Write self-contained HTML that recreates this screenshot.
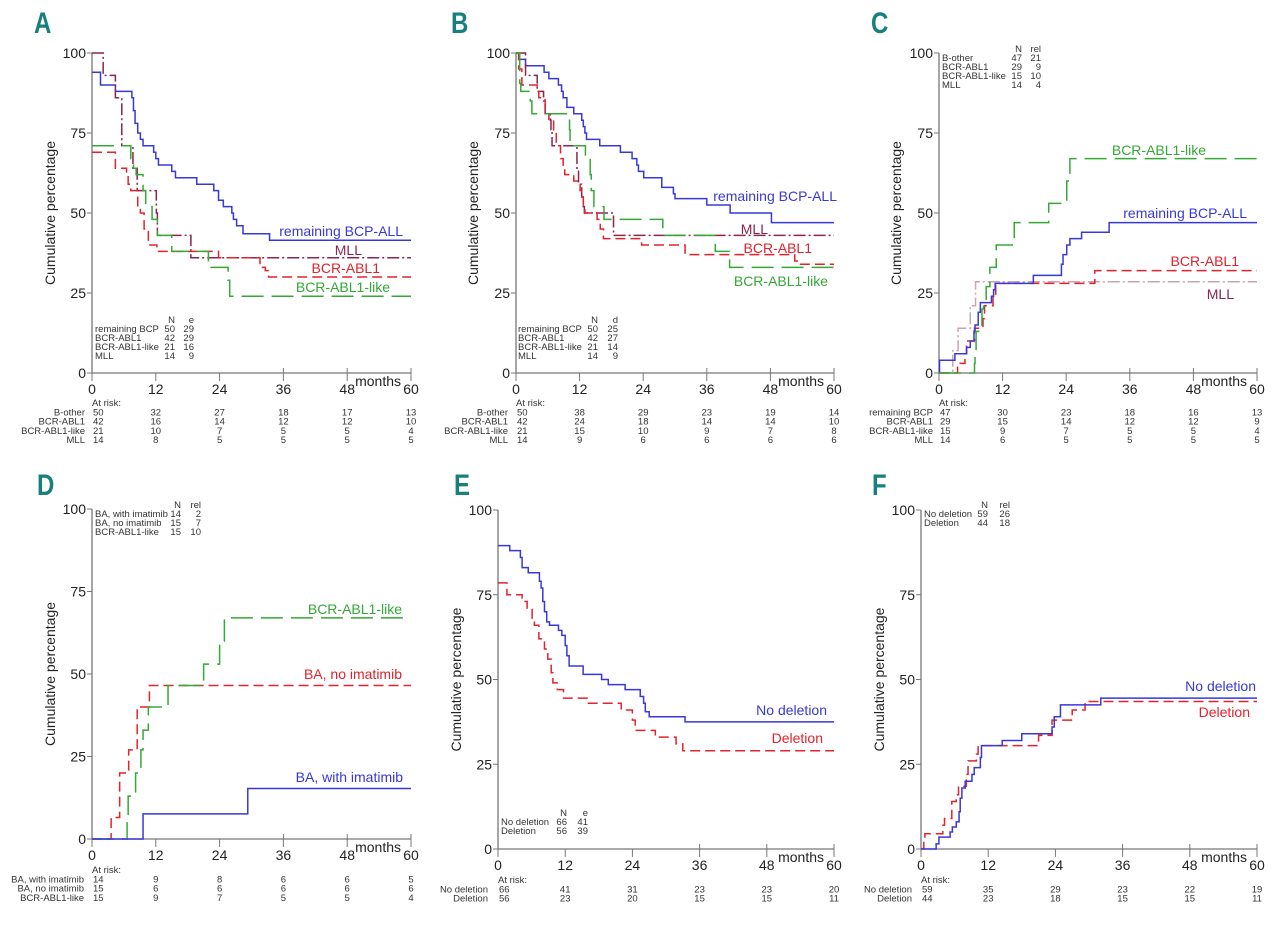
<!DOCTYPE html>
<html><head><meta charset="utf-8">
<style>
html,body{margin:0;padding:0;background:#fff;}
svg{display:block;font-family:"Liberation Sans",Arial,sans-serif;}
.tk{font-size:14px;fill:#222;}
.tb{font-size:9.5px;fill:#333;}
.lab{font-size:14px;}
.ltr{font-family:"Liberation Sans Narrow","Liberation Sans",sans-serif;font-weight:bold;font-size:30px;fill:#17807c;}
</style></head>
<body>
<svg id="fig" width="1280" height="932" viewBox="0 0 1280 932"></svg>
<script>
// ---------- DATA (step curves: times in months, values in %) ----------
const months = [0,12,24,36,48,60];
const yTicks = [0,25,50,75,100];

// Panel A
const aBlueT=[0,1.6,4.4,7.5,7.8,8.1,8.6,9.1,9.6,11.6,12,12.5,15,15.7,19.7,22.9,23.8,24.7,26.3,26.6,27.2,28.4,33.4];
const aBlueV=[94,90,88,86,82,78,75,73,71,69,67,65,63,61,59,57,54,52,50,48,46,43.5,41.5];
const aMllT=[0,2.1,4.4,5.6,7.7,8.5,12.1,12.3,18.6];
const aMllV=[100,93,86,71,64,57,50,43,36];
const aRedT=[0,4.4,6.5,6.8,7.3,8.6,9.1,9.8,10.6,12.2,23.8,31.6,32.6,33.2];
const aRedV=[69,64,62,59,57,52,50,45,40,38,36,33,32,30];
const aGreenT=[0,7.3,7.8,8.3,9.6,10.1,11.3,12.3,15,21.9,25.6,25.9];
const aGreenV=[71,67,64,62,57,52,48,43,38,33,29,24];
const aRiskB=[50,32,27,18,17,13], aRiskBA=[42,16,14,12,12,10], aRiskBL=[21,10,7,5,5,4], aRiskM=[14,8,5,5,5,5];

// Panel B
const bBlueT=[0,0.5,1.8,5.3,6.2,8,8.6,8.9,9.6,10.9,12.4,12.7,13,13.3,15.8,19.7,21.9,22.8,23.1,24.1,27.5,29.7,30,36,40.4,48.2];
const bBlueV=[100,98,96,94,92,90,88,86,83,81,79,77,75,73,71,69,67,65,63,61,58,56,54.5,52.5,50,47];
const bMllT=[0,1.8,4,5.2,5.5,6.5,6.6,6.8,11.5,11.8,12.4,12.7,12.9,18.4];
const bMllV=[100,93,88,85,81,79,76,71,64,59,55,52,50,43];
const bRedT=[0,0.5,1.1,4,4.3,5.5,6.2,7.1,7.6,8.4,8.9,9.2,10.9,12.1,12.4,12.7,13,15.3,15.9,16.5,23.7,31.9,52.6,53.5];
const bRedV=[100,95,90,88,86,81,79,76,71,67,64,62,60,57,55,52,50,48,45,42,40,37,35,34];
const bGreenT=[0,0.7,0.9,2.7,3,10.1,10.2,13.1,14,14.2,14.7,16.6,27.7,37.6,40.3];
const bGreenV=[100,90.5,88,85,81,76,71,67,62,57,52,48,43,38,33];
const bRiskB=[50,38,29,23,19,14], bRiskBA=[42,24,18,14,14,10], bRiskBL=[21,15,10,9,7,8], bRiskM=[14,9,6,6,6,6];

// Panel C
const cGreenT=[0,6.7,6.8,7,8.1,8.4,8.9,9.6,10.8,14.2,20.7,24.1,24.7];
const cGreenV=[0,3,7,13,20,23,27,33,40,47,53,60,67];
const cBlueT=[0,0.1,3,5.2,5.9,6.6,6.8,7.4,7.8,9.9,10.3,10.6,17.8,23.1,23.4,24.1,24.7,26.9,32.1];
const cBlueV=[0,4,6,8,10,13,15,19,22,24,26,28,30.5,34,37,40,42,44,47];
const cRedT=[0,3.5,4.9,5.2,6.7,8.3,8.6,10.2,10.7,29.4];
const cRedV=[0,3,6,10,14,17,21,24,28,32];
const cMllT=[0,2.6,3.6,5.9,6.9];
const cMllV=[0,7,14,21,28.5];
const cRiskB=[47,30,23,18,16,13], cRiskBA=[29,15,14,12,12,9], cRiskBL=[15,9,7,5,5,4], cRiskM=[14,6,5,5,5,5];

// Panel D
const dRedT=[0,3.6,5.2,6.9,8.5,10.8];
const dRedV=[0,6.5,20,27,40,46.5];
const dGreenT=[0,6.6,6.8,8.2,9.2,9.6,10.6,14.3,21,24,24.9];
const dGreenV=[0,6.5,13,20,27,33,40,46.5,53,60,67];
const dBlueT=[0,9.6,29.3];
const dBlueV=[0,7.6,15.3];
const dRiskW=[14,9,8,6,6,5], dRiskN=[15,6,6,6,6,6], dRiskL=[15,9,7,5,5,4];

// Panel E
const eBlueT=[0,2.1,4,4.3,5.4,7.4,7.7,8,8.3,8.7,9.2,10.8,11.4,12,12.3,12.7,15.2,18.5,19.7,22.7,25.4,26,26.3,27,33.4];
const eBlueV=[89.5,88,86,83,81.5,79,77,73,70,67,66,64.5,63,60,57,54,51.5,50,48.5,47,45,43,40.5,39,37.5];
const eRedT=[0,1.6,4.3,5.2,6.1,6.5,7.3,8.3,8.9,9.5,9.8,10.6,11.7,15.9,22,24,24.5,28.1,31.8,33];
const eRedV=[78.5,75,73,71,68,66,62,59,56,52,49,47,44.5,43,41,38,35,33,31,29];
const eRiskN=[66,41,31,23,23,20], eRiskD=[56,23,20,15,15,11];

// Panel F
const fBlueT=[0,2.7,3.2,5.2,5.6,6.3,6.8,7,7.3,7.9,9.1,9.5,10.6,10.8,14.5,18,23.4,23.8,24.9,32.1];
const fBlueV=[0,1.5,3.5,5,6.5,8,11,15,18,20,22,24,27,30.5,32,34,36,39,42.5,44.5];
const fRedT=[0,0.5,0.7,3.9,4.2,5.5,6.3,6.7,8.1,8.4,9.9,10.2,21,23.4,27,29.3];
const fRedV=[0,2.5,4.5,7,9,14,16,18.5,22,26,28,30.5,33.5,38,41,43.5];
const fRiskN=[59,35,29,23,22,19], fRiskD=[44,23,18,15,15,11];

// ---------- STYLES & LAYOUT ----------
const BLUE="#3838d8", RED="#e2222c", GREEN="#36a836", MLL="#8c2450", MLLC="#c9a3b6";
const svg=document.getElementById('fig');
const NS="http://www.w3.org/2000/svg";
function mk(tag,attrs,parent){const e=document.createElementNS(NS,tag);for(const k in attrs)e.setAttribute(k,attrs[k]);(parent||svg).appendChild(e);return e;}
function txt(x,y,s,cls,anchor,parent,fill){const t=mk('text',{x:x,y:y,class:cls,'text-anchor':anchor||'start'},parent);if(fill)t.setAttribute('fill',fill);t.textContent=s;return t;}

const panels=[
 {id:'a',letter:'A',lx:34,ly:33,x0:92,x1:411,y100:53,y0:373,titleX:55,
  series:[[aBlueT,aBlueV,BLUE,'none'],[aMllT,aMllV,MLL,'12,3,2,3'],[aRedT,aRedV,RED,'10,5'],[aGreenT,aGreenV,GREEN,'22,8']],
  labels:[['remaining BCP-ALL',403,236,BLUE],['MLL',362,255,MLL],['BCR-ABL1',380,273,RED],['BCR-ABL1-like',390,292,GREEN]],
  leg:{x:95,y:323,hdr:['N','e'],c1:175,c2:194,rows:[['remaining BCP',50,29],['BCR-ABL1',42,29],['BCR-ABL1-like',21,16],['MLL',14,9]]},
  risk:{y:406,nx:85,rows:[['B-other',aRiskB],['BCR-ABL1',aRiskBA],['BCR-ABL1-like',aRiskBL],['MLL',aRiskM]]}},
 {id:'b',letter:'B',lx:451,ly:33,x0:516,x1:834,y100:53,y0:373,titleX:478,
  series:[[bBlueT,bBlueV,BLUE,'none'],[bMllT,bMllV,MLL,'12,3,2,3'],[bRedT,bRedV,RED,'10,5'],[bGreenT,bGreenV,GREEN,'22,8']],
  labels:[['remaining BCP-ALL',837,201,BLUE],['MLL',768,234,MLL],['BCR-ABL1',812,253,RED],['BCR-ABL1-like',828,286,GREEN]],
  leg:{x:518,y:323,hdr:['N','d'],c1:598,c2:618,rows:[['remaining BCP',50,25],['BCR-ABL1',42,27],['BCR-ABL1-like',21,14],['MLL',14,9]]},
  risk:{y:406,nx:508,rows:[['B-other',bRiskB],['BCR-ABL1',bRiskBA],['BCR-ABL1-like',bRiskBL],['MLL',bRiskM]]}},
 {id:'c',letter:'C',lx:871,ly:33,x0:939,x1:1257,y100:53,y0:373,titleX:901,
  series:[[cMllT,cMllV,MLLC,'12,3,2,3'],[cRedT,cRedV,RED,'10,5'],[cBlueT,cBlueV,BLUE,'none'],[cGreenT,cGreenV,GREEN,'22,8']],
  labels:[['BCR-ABL1-like',1206,155,GREEN],['remaining BCP-ALL',1247,218,BLUE],['BCR-ABL1',1239,266,RED],['MLL',1234,299,MLL]],
  leg:{x:942,y:52,hdr:['N','rel'],c1:1022,c2:1041,rows:[['B-other',47,21],['BCR-ABL1',29,9],['BCR-ABL1-like',15,10],['MLL',14,4]]},
  risk:{y:406,nx:933,rows:[['remaining BCP',cRiskB],['BCR-ABL1',cRiskBA],['BCR-ABL1-like',cRiskBL],['MLL',cRiskM]]}},
 {id:'d',letter:'D',lx:37,ly:495,x0:92,x1:411,y100:509,y0:839,titleX:55,
  series:[[dRedT,dRedV,RED,'10,5'],[dGreenT,dGreenV,GREEN,'22,8'],[dBlueT,dBlueV,BLUE,'none']],
  labels:[['BCR-ABL1-like',402,614,GREEN],['BA, no imatimib',402,679,RED],['BA, with imatimib',403,782,BLUE]],
  leg:{x:95,y:508,hdr:['N','rel'],c1:181,c2:201,rows:[['BA, with imatimib',14,2],['BA, no imatimib',15,7],['BCR-ABL1-like',15,10]]},
  risk:{y:873,nx:84,rows:[['BA, with imatimib',dRiskW],['BA, no imatimib',dRiskN],['BCR-ABL1-like',dRiskL]]}},
 {id:'e',letter:'E',lx:454,ly:495,x0:498,x1:834,y100:510,y0:849,titleX:461,
  series:[[eBlueT,eBlueV,BLUE,'none'],[eRedT,eRedV,RED,'10,5']],
  labels:[['No deletion',827,715,BLUE],['Deletion',823,743,RED]],
  leg:{x:501,y:816,hdr:['N','e'],c1:567,c2:588,rows:[['No deletion',66,41],['Deletion',56,39]]},
  risk:{y:883,nx:488,rows:[['No deletion',eRiskN],['Deletion',eRiskD]]}},
 {id:'f',letter:'F',lx:872,ly:495,x0:921,x1:1257,y100:510,y0:849,titleX:884,
  series:[[fRedT,fRedV,RED,'10,5'],[fBlueT,fBlueV,BLUE,'none']],
  labels:[['No deletion',1256,691,BLUE],['Deletion',1250,717,RED]],
  leg:{x:924,y:508,hdr:['N','rel'],c1:988,c2:1010,rows:[['No deletion',59,26],['Deletion',44,18]]},
  risk:{y:883,nx:912,rows:[['No deletion',fRiskN],['Deletion',fRiskD]]}}
];

panels.forEach(p=>{
  const g=mk('g',{});
  
  
  const X=t=>p.x0+(p.x1-p.x0)*t/60;
  const Y=v=>p.y0-(p.y0-p.y100)*v/100;
  const L=txt(0,0,p.letter,'ltr','start',g);
  L.setAttribute('transform',`translate(${p.lx},${p.ly}) scale(0.8,1)`);
  
  
  // axes
  const ax=mk('path',{d:`M${p.x0},${p.y100}V${p.y0}H${p.x1}`,stroke:'#777',fill:'none','stroke-width':1.3},g);
  
  
  yTicks.forEach(v=>{
    mk('line',{x1:p.x0-5,x2:p.x0,y1:Y(v),y2:Y(v),stroke:'#777'},g);
    const t=txt(p.x0-6,Y(v)+5,String(v),'tk','end',g);
    
    
  });
  months.forEach(m=>{
    mk('line',{x1:X(m),x2:X(m),y1:p.y0,y2:p.y0+8,stroke:'#777'},g);
    if(m>=36) mk('line',{x1:X(m),x2:X(m),y1:p.y0-5,y2:p.y0,stroke:'#777'},g);
    const t=txt(X(m),p.y0+21,String(m),'tk','middle',g);
    
    
  });
  const mo=txt(X(60)-10,p.y0+13,'months','tk','end',g);
  
  
  const tc=(p.y0+p.y100)/2;
  const yt=txt(p.titleX,tc,'Cumulative percentage','tk','middle',g);
  yt.setAttribute('transform',`rotate(-90 ${p.titleX} ${tc})`);
  
  
  // series
  p.series.forEach(([T,V,col,dash],i)=>{
    let d=`M${X(T[0])},${Y(V[0])}`;
    for(let k=1;k<T.length;k++){d+=`H${X(T[k])}V${Y(V[k])}`;}
    d+=`H${X(60)}`;
    const path=mk('path',{d:d,stroke:col,fill:'none','stroke-width':1.5},g);
    if(dash!=='none')path.setAttribute('stroke-dasharray',dash);
    
    
  });
  p.labels.forEach(([s,x,y,c])=>{
    const t=txt(x,y,s,'lab','end',g,c);
    
    
  });
  // legend table
  const lg=p.leg;
  txt(lg.c1,lg.y,lg.hdr[0],'tb','end',g);
  txt(lg.c2,lg.y,lg.hdr[1],'tb','end',g);
  lg.rows.forEach((r,i)=>{
    const yy=lg.y+9*(i+1);
    const n=txt(lg.x,yy,r[0],'tb','start',g);
    
    
    txt(lg.c1,yy,String(r[1]),'tb','end',g);
    txt(lg.c2,yy,String(r[2]),'tb','end',g);
  });
  // at-risk table
  const rk=p.risk;
  const ar=txt(p.x0,rk.y,'At risk:','tb','start',g);
  
  
  rk.rows.forEach((r,i)=>{
    const yy=rk.y+9.3*(i+1);
    const n=txt(rk.nx,yy,r[0],'tb','end',g);
    
    
    r[1].forEach((v,j)=>{
      txt(j===0?X(0)+1:X(months[j]),yy,String(v),'tb',j===0?'start':'middle',g);
    });
  });
});
</script>
</body></html>
